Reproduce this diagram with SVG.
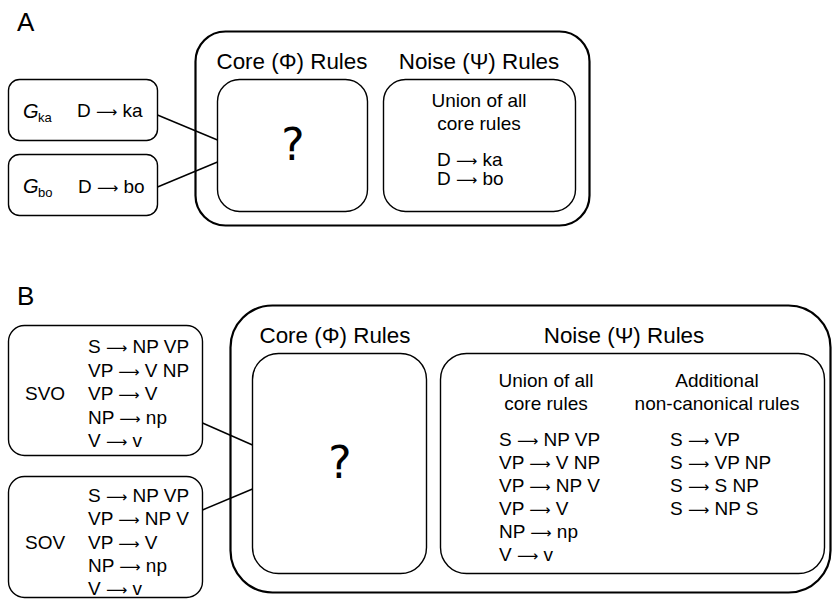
<svg xmlns="http://www.w3.org/2000/svg" width="834" height="601" viewBox="0 0 834 601">
  <style>
    text { font-family: "Liberation Sans", Arial, sans-serif; fill: #000; }
    .panel { font-size: 26px; }
    .head { font-size: 22.4px; text-anchor: middle; }
    .rule { font-size: 19px; }
    .mid { text-anchor: middle; }
    .ar { font-family: "DejaVu Sans", sans-serif; font-size: 0.78em; }
    .q { font-family: "DejaVu Sans", sans-serif; font-size: 44px; text-anchor: middle; }
    .outer { fill: none; stroke: #000; stroke-width: 2.2; }
    .box { fill: none; stroke: #000; stroke-width: 1.4; }
    .conn line { stroke: #000; stroke-width: 1.4; }
  </style>

  <!-- Panel A -->
  <text class="panel" x="17" y="31">A</text>

  <g id="a-system">
    <rect class="outer" x="195.5" y="31.5" width="394" height="194" rx="30"/>
    <text class="head" x="292" y="69">Core (Φ) Rules</text>
    <text class="head" x="479" y="69">Noise (Ψ) Rules</text>
  </g>

  <g id="a-core">
    <rect class="box" x="217.5" y="79.5" width="150" height="132" rx="22"/>
    <text class="q" x="293" y="160">?</text>
  </g>

  <g id="a-noise">
    <rect class="box" x="383.5" y="79.5" width="192" height="132" rx="22"/>
    <text class="rule mid" x="479" y="107">Union of all</text>
    <text class="rule mid" x="479" y="130">core rules</text>
    <text class="rule" x="437" y="166">D <tspan class="ar">⟶</tspan> ka</text>
    <text class="rule" x="437" y="185">D <tspan class="ar">⟶</tspan> bo</text>
  </g>

  <g id="a-gka">
    <rect class="box" x="8.5" y="79.5" width="149" height="61" rx="11"/>
    <text x="23" y="118" font-size="20" font-style="italic">G</text>
    <text x="38" y="122" font-size="13">ka</text>
    <text class="rule" x="77" y="117">D <tspan class="ar">⟶</tspan> ka</text>
  </g>

  <g id="a-gbo">
    <rect class="box" x="8.5" y="154.5" width="149" height="61" rx="11"/>
    <text x="23" y="193" font-size="20" font-style="italic">G</text>
    <text x="38" y="197" font-size="13">bo</text>
    <text class="rule" x="78" y="193">D <tspan class="ar">⟶</tspan> bo</text>
  </g>

  <!-- Panel B -->
  <text class="panel" x="17" y="305">B</text>

  <g id="b-system">
    <rect class="outer" x="230.5" y="305.5" width="600" height="287" rx="42"/>
    <text class="head" x="335" y="343">Core (Φ) Rules</text>
    <text class="head" x="624" y="343">Noise (Ψ) Rules</text>
  </g>

  <g id="b-core">
    <rect class="box" x="252.5" y="353.5" width="174" height="220" rx="26"/>
    <text class="q" x="340" y="478">?</text>
  </g>

  <g id="b-noise">
    <rect class="box" x="440.5" y="353.5" width="384" height="220" rx="26"/>
    <text class="rule mid" x="546" y="387">Union of all</text>
    <text class="rule mid" x="546" y="410">core rules</text>
    <text class="rule mid" x="717" y="387">Additional</text>
    <text class="rule mid" x="717" y="410">non-canonical rules</text>
    <text class="rule" x="499" y="446">S <tspan class="ar">⟶</tspan> NP VP</text>
    <text class="rule" x="499" y="469">VP <tspan class="ar">⟶</tspan> V NP</text>
    <text class="rule" x="499" y="492">VP <tspan class="ar">⟶</tspan> NP V</text>
    <text class="rule" x="499" y="515">VP <tspan class="ar">⟶</tspan> V</text>
    <text class="rule" x="499" y="538">NP <tspan class="ar">⟶</tspan> np</text>
    <text class="rule" x="499" y="561">V <tspan class="ar">⟶</tspan> v</text>
    <text class="rule" x="670" y="446">S <tspan class="ar">⟶</tspan> VP</text>
    <text class="rule" x="670" y="469">S <tspan class="ar">⟶</tspan> VP NP</text>
    <text class="rule" x="670" y="492">S <tspan class="ar">⟶</tspan> S NP</text>
    <text class="rule" x="670" y="515">S <tspan class="ar">⟶</tspan> NP S</text>
  </g>

  <g id="b-svo">
    <rect class="box" x="8.5" y="325.5" width="194" height="130" rx="16"/>
    <text class="rule" x="25" y="400">SVO</text>
    <text class="rule" x="88" y="353">S <tspan class="ar">⟶</tspan> NP VP</text>
    <text class="rule" x="88" y="377">VP <tspan class="ar">⟶</tspan> V NP</text>
    <text class="rule" x="88" y="400">VP <tspan class="ar">⟶</tspan> V</text>
    <text class="rule" x="88" y="424">NP <tspan class="ar">⟶</tspan> np</text>
    <text class="rule" x="88" y="447">V <tspan class="ar">⟶</tspan> v</text>
  </g>

  <g id="b-sov">
    <rect class="box" x="8.5" y="476.5" width="194" height="121" rx="16"/>
    <text class="rule" x="25" y="549">SOV</text>
    <text class="rule" x="88" y="502">S <tspan class="ar">⟶</tspan> NP VP</text>
    <text class="rule" x="88" y="525">VP <tspan class="ar">⟶</tspan> NP V</text>
    <text class="rule" x="88" y="549">VP <tspan class="ar">⟶</tspan> V</text>
    <text class="rule" x="88" y="572">NP <tspan class="ar">⟶</tspan> np</text>
    <text class="rule" x="88" y="595">V <tspan class="ar">⟶</tspan> v</text>
  </g>

  <!-- connectors from each grammar to the core-rule box -->
  <g id="connectors" class="conn">
    <line x1="157.5" y1="115" x2="217.5" y2="140"/>
    <line x1="157.5" y1="187" x2="217.5" y2="162"/>
    <line x1="202.5" y1="423" x2="252.5" y2="445"/>
    <line x1="202.5" y1="510" x2="252.5" y2="489"/>
  </g>
</svg>
